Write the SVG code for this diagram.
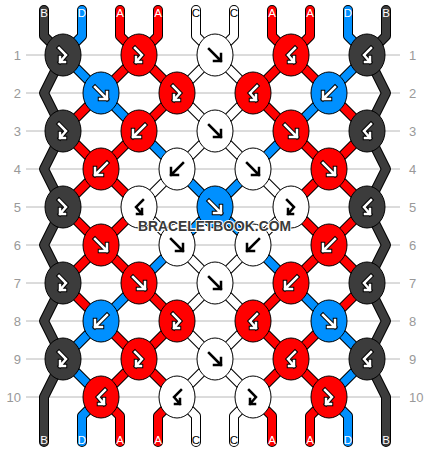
<svg xmlns="http://www.w3.org/2000/svg" width="430" height="452" viewBox="0 0 430 452">
<style>
.grid line{stroke:#b8b8b8;stroke-width:1}
.rl{font-family:"Liberation Sans",Arial,sans-serif;font-size:13px;fill:#999}
.rl.l{text-anchor:end}
.o{fill:none;stroke:#000;stroke-width:10;stroke-linejoin:round;stroke-linecap:round}
.s{fill:none;stroke-width:8;stroke-linejoin:round;stroke-linecap:round}
.sB{stroke:#3c3c3c}.sD{stroke:#0090ff}.sA{stroke:#ff0000}.sC{stroke:#ffffff}
.nB,.nD,.nA,.nC{stroke:#000;stroke-width:1}
.nB{fill:#3c3c3c}.nD{fill:#0090ff}.nA{fill:#ff0000}.nC{fill:#ffffff}
.ao{fill:none;stroke:#000;stroke-width:4.5;stroke-linecap:square;stroke-linejoin:miter}
.ai{fill:none;stroke:#fff;stroke-width:2.5;stroke-linecap:square;stroke-linejoin:miter}
.ak{fill:none;stroke:#000;stroke-width:2.5;stroke-linecap:square;stroke-linejoin:miter}
.lab{font-family:"Liberation Sans",Arial,sans-serif;font-size:11.5px;text-anchor:middle;fill:#fff}
.lab.k{fill:#000}
.wm{font-family:"Liberation Sans",Arial,sans-serif;font-size:15px;font-weight:bold;fill:#3a3a3a;stroke:#fff;stroke-width:2;paint-order:stroke}
</style>
<defs>
<path id="gf" d="M-6,-6L6,6M6,-1V6H-1"/>
<path id="gb" d="M6,-6L-6,6M-6,-1V6H1"/>
<path id="gfb" d="M-4,-7L3,0L-3,7M-3,2V7H2"/>
<path id="gbf" d="M4,-7L-3,0L3,7M3,2V7H-2"/>
<ellipse id="el" rx="18" ry="21"/>
<path id="pB" d="M44,10V36L63,55L44,93L63,131L44,169L63,207L44,245L63,283L44,321L63,359L44,397V442M386,10V36L367,55L386,93L367,131L386,169L367,207L386,245L367,283L386,321L367,359L386,397V442"/>
<path id="pD" d="M82,10V36L63,55L101,93L139,131L177,169L215,207L177,245L139,283L101,321L63,359L101,397L82,416V442M348,10V36L367,55L329,93L291,131L253,169L215,207L253,245L291,283L329,321L367,359L329,397L348,416V442"/>
<path id="pC" d="M196,10V36L215,55L177,93L215,131L177,169L139,207L177,245L215,283L177,321L215,359L177,397L196,416V442M234,10V36L215,55L253,93L215,131L253,169L291,207L253,245L215,283L253,321L215,359L253,397L234,416V442"/>
<path id="pA" d="M120,10V36L139,55L101,93L63,131L101,169L63,207L101,245L63,283L101,321L139,359L101,397L120,416V442M158,10V36L139,55L177,93L139,131L101,169L139,207L101,245L139,283L177,321L139,359L177,397L158,416V442M310,10V36L291,55L329,93L367,131L329,169L367,207L329,245L367,283L329,321L291,359L329,397L310,416V442M272,10V36L291,55L253,93L291,131L329,169L291,207L329,245L291,283L253,321L291,359L253,397L272,416V442"/>
</defs>
<rect width="430" height="452" fill="#fff"/>
<g class="grid">
<line x1="26" y1="55" x2="400" y2="55"/><line x1="26" y1="93" x2="400" y2="93"/>
<line x1="26" y1="131" x2="400" y2="131"/><line x1="26" y1="169" x2="400" y2="169"/>
<line x1="26" y1="207" x2="400" y2="207"/><line x1="26" y1="245" x2="400" y2="245"/>
<line x1="26" y1="283" x2="400" y2="283"/><line x1="26" y1="321" x2="400" y2="321"/>
<line x1="26" y1="359" x2="400" y2="359"/><line x1="26" y1="397" x2="400" y2="397"/>
</g>
<g id="row-labels">
<text class="rl l" x="21" y="59.5">1</text><text class="rl" x="409" y="59.5">1</text>
<text class="rl l" x="21" y="97.5">2</text><text class="rl" x="409" y="97.5">2</text>
<text class="rl l" x="21" y="135.5">3</text><text class="rl" x="409" y="135.5">3</text>
<text class="rl l" x="21" y="173.5">4</text><text class="rl" x="409" y="173.5">4</text>
<text class="rl l" x="21" y="211.5">5</text><text class="rl" x="409" y="211.5">5</text>
<text class="rl l" x="21" y="249.5">6</text><text class="rl" x="409" y="249.5">6</text>
<text class="rl l" x="21" y="287.5">7</text><text class="rl" x="409" y="287.5">7</text>
<text class="rl l" x="21" y="325.5">8</text><text class="rl" x="409" y="325.5">8</text>
<text class="rl l" x="21" y="363.5">9</text><text class="rl" x="409" y="363.5">9</text>
<text class="rl l" x="21" y="401.5">10</text><text class="rl" x="409" y="401.5">10</text>
</g>
<g id="connectors">
<use href="#pB" class="o"/><use href="#pD" class="o"/><use href="#pC" class="o"/><use href="#pA" class="o"/>
<use href="#pB" class="s sB"/><use href="#pD" class="s sD"/><use href="#pC" class="s sC"/><use href="#pA" class="s sA"/>
</g>
<g id="string-labels">
<text class="lab" x="44" y="16.5">B</text><text class="lab" x="82" y="16.5">D</text><text class="lab" x="120" y="16.5">A</text><text class="lab" x="158" y="16.5">A</text><text class="lab k" x="196" y="16.5">C</text><text class="lab k" x="234" y="16.5">C</text><text class="lab" x="272" y="16.5">A</text><text class="lab" x="310" y="16.5">A</text><text class="lab" x="348" y="16.5">D</text><text class="lab" x="386" y="16.5">B</text>
<text class="lab" x="44" y="443.5">B</text><text class="lab" x="82" y="443.5">D</text><text class="lab" x="120" y="443.5">A</text><text class="lab" x="158" y="443.5">A</text><text class="lab k" x="196" y="443.5">C</text><text class="lab k" x="234" y="443.5">C</text><text class="lab" x="272" y="443.5">A</text><text class="lab" x="310" y="443.5">A</text><text class="lab" x="348" y="443.5">D</text><text class="lab" x="386" y="443.5">B</text>
</g>
<g id="nodes">
<g id="n1-1" transform="translate(63,55)"><use href="#el" class="nB"/><use href="#gfb" class="ao"/><use href="#gfb" class="ai"/></g>
<g id="n1-2" transform="translate(139,55)"><use href="#el" class="nA"/><use href="#gfb" class="ao"/><use href="#gfb" class="ai"/></g>
<g id="n1-3" transform="translate(215,55)"><use href="#el" class="nC"/><use href="#gf" class="ak"/></g>
<g id="n1-4" transform="translate(291,55)"><use href="#el" class="nA"/><use href="#gbf" class="ao"/><use href="#gbf" class="ai"/></g>
<g id="n1-5" transform="translate(367,55)"><use href="#el" class="nB"/><use href="#gbf" class="ao"/><use href="#gbf" class="ai"/></g>

<g id="n2-1" transform="translate(101,93)"><use href="#el" class="nD"/><use href="#gf" class="ao"/><use href="#gf" class="ai"/></g>
<g id="n2-2" transform="translate(177,93)"><use href="#el" class="nA"/><use href="#gfb" class="ao"/><use href="#gfb" class="ai"/></g>
<g id="n2-3" transform="translate(253,93)"><use href="#el" class="nA"/><use href="#gbf" class="ao"/><use href="#gbf" class="ai"/></g>
<g id="n2-4" transform="translate(329,93)"><use href="#el" class="nD"/><use href="#gb" class="ao"/><use href="#gb" class="ai"/></g>

<g id="n3-1" transform="translate(63,131)"><use href="#el" class="nB"/><use href="#gfb" class="ao"/><use href="#gfb" class="ai"/></g>
<g id="n3-2" transform="translate(139,131)"><use href="#el" class="nA"/><use href="#gb" class="ao"/><use href="#gb" class="ai"/></g>
<g id="n3-3" transform="translate(215,131)"><use href="#el" class="nC"/><use href="#gf" class="ak"/></g>
<g id="n3-4" transform="translate(291,131)"><use href="#el" class="nA"/><use href="#gf" class="ao"/><use href="#gf" class="ai"/></g>
<g id="n3-5" transform="translate(367,131)"><use href="#el" class="nB"/><use href="#gbf" class="ao"/><use href="#gbf" class="ai"/></g>

<g id="n4-1" transform="translate(101,169)"><use href="#el" class="nA"/><use href="#gb" class="ao"/><use href="#gb" class="ai"/></g>
<g id="n4-2" transform="translate(177,169)"><use href="#el" class="nC"/><use href="#gb" class="ak"/></g>
<g id="n4-3" transform="translate(253,169)"><use href="#el" class="nC"/><use href="#gf" class="ak"/></g>
<g id="n4-4" transform="translate(329,169)"><use href="#el" class="nA"/><use href="#gf" class="ao"/><use href="#gf" class="ai"/></g>

<g id="n5-1" transform="translate(63,207)"><use href="#el" class="nB"/><use href="#gfb" class="ao"/><use href="#gfb" class="ai"/></g>
<g id="n5-2" transform="translate(139,207)"><use href="#el" class="nC"/><use href="#gbf" class="ak"/></g>
<g id="n5-3" transform="translate(215,207)"><use href="#el" class="nD"/><use href="#gf" class="ao"/><use href="#gf" class="ai"/></g>
<g id="n5-4" transform="translate(291,207)"><use href="#el" class="nC"/><use href="#gfb" class="ak"/></g>
<g id="n5-5" transform="translate(367,207)"><use href="#el" class="nB"/><use href="#gbf" class="ao"/><use href="#gbf" class="ai"/></g>

<g id="n6-1" transform="translate(101,245)"><use href="#el" class="nA"/><use href="#gf" class="ao"/><use href="#gf" class="ai"/></g>
<g id="n6-2" transform="translate(177,245)"><use href="#el" class="nC"/><use href="#gf" class="ak"/></g>
<g id="n6-3" transform="translate(253,245)"><use href="#el" class="nC"/><use href="#gb" class="ak"/></g>
<g id="n6-4" transform="translate(329,245)"><use href="#el" class="nA"/><use href="#gb" class="ao"/><use href="#gb" class="ai"/></g>

<g id="n7-1" transform="translate(63,283)"><use href="#el" class="nB"/><use href="#gfb" class="ao"/><use href="#gfb" class="ai"/></g>
<g id="n7-2" transform="translate(139,283)"><use href="#el" class="nA"/><use href="#gf" class="ao"/><use href="#gf" class="ai"/></g>
<g id="n7-3" transform="translate(215,283)"><use href="#el" class="nC"/><use href="#gf" class="ak"/></g>
<g id="n7-4" transform="translate(291,283)"><use href="#el" class="nA"/><use href="#gb" class="ao"/><use href="#gb" class="ai"/></g>
<g id="n7-5" transform="translate(367,283)"><use href="#el" class="nB"/><use href="#gbf" class="ao"/><use href="#gbf" class="ai"/></g>

<g id="n8-1" transform="translate(101,321)"><use href="#el" class="nD"/><use href="#gb" class="ao"/><use href="#gb" class="ai"/></g>
<g id="n8-2" transform="translate(177,321)"><use href="#el" class="nA"/><use href="#gfb" class="ao"/><use href="#gfb" class="ai"/></g>
<g id="n8-3" transform="translate(253,321)"><use href="#el" class="nA"/><use href="#gbf" class="ao"/><use href="#gbf" class="ai"/></g>
<g id="n8-4" transform="translate(329,321)"><use href="#el" class="nD"/><use href="#gf" class="ao"/><use href="#gf" class="ai"/></g>

<g id="n9-1" transform="translate(63,359)"><use href="#el" class="nB"/><use href="#gfb" class="ao"/><use href="#gfb" class="ai"/></g>
<g id="n9-2" transform="translate(139,359)"><use href="#el" class="nA"/><use href="#gfb" class="ao"/><use href="#gfb" class="ai"/></g>
<g id="n9-3" transform="translate(215,359)"><use href="#el" class="nC"/><use href="#gf" class="ak"/></g>
<g id="n9-4" transform="translate(291,359)"><use href="#el" class="nA"/><use href="#gbf" class="ao"/><use href="#gbf" class="ai"/></g>
<g id="n9-5" transform="translate(367,359)"><use href="#el" class="nB"/><use href="#gbf" class="ao"/><use href="#gbf" class="ai"/></g>

<g id="n10-1" transform="translate(101,397)"><use href="#el" class="nA"/><use href="#gbf" class="ao"/><use href="#gbf" class="ai"/></g>
<g id="n10-2" transform="translate(177,397)"><use href="#el" class="nC"/><use href="#gbf" class="ak"/></g>
<g id="n10-3" transform="translate(253,397)"><use href="#el" class="nC"/><use href="#gfb" class="ak"/></g>
<g id="n10-4" transform="translate(329,397)"><use href="#el" class="nA"/><use href="#gfb" class="ao"/><use href="#gfb" class="ai"/></g>
</g>
<text class="wm" x="138" y="231" textLength="153" lengthAdjust="spacingAndGlyphs">BRACELETBOOK.COM</text>
</svg>
